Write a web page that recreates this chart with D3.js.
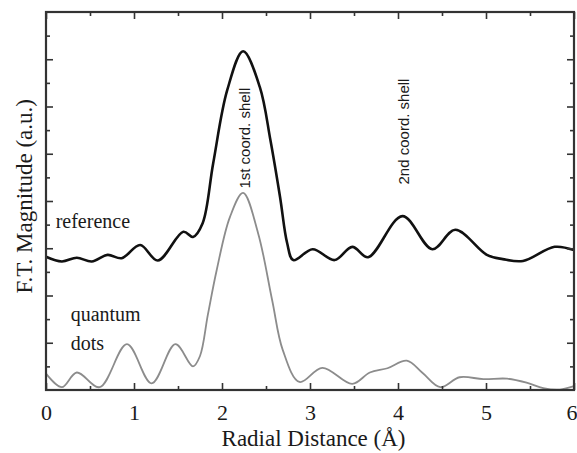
<!DOCTYPE html>
<html>
<head>
<meta charset="utf-8">
<script src="https://cdn.jsdelivr.net/npm/d3@7"></script>
<style>
  html, body { margin: 0; padding: 0; background: #fff; }
  svg { display: block; }
</style>
</head>
<body>
<div id="chart"></div>
<script>
// reference sample (black)
const refR   = [0, 0.18, 0.35, 0.52, 0.70, 0.86, 1.07, 1.27, 1.56, 1.67, 1.78, 1.90, 2.06, 2.24, 2.43, 2.55, 2.66, 2.74, 2.81, 3.03, 3.28, 3.48, 3.66, 4.05, 4.39, 4.65, 5.01, 5.19, 5.42, 5.78, 6.0];
const refMag = [2.82, 2.72, 2.80, 2.72, 2.86, 2.79, 3.07, 2.74, 3.35, 3.24, 3.53, 4.80, 6.35, 7.17, 6.41, 5.29, 4.08, 3.11, 2.75, 2.98, 2.75, 3.03, 2.81, 3.68, 2.98, 3.39, 2.86, 2.77, 2.73, 3.03, 2.96];

// quantum dots (gray)
const qdR   = [0, 0.18, 0.35, 0.61, 0.92, 1.20, 1.47, 1.67, 1.75, 1.84, 1.94, 2.09, 2.24, 2.41, 2.57, 2.69, 2.88, 3.14, 3.48, 3.68, 3.88, 4.10, 4.28, 4.48, 4.70, 4.97, 5.24, 5.47, 5.65, 5.84, 6.0];
const qdMag = [0.35, 0.06, 0.37, 0.06, 0.97, 0.14, 0.97, 0.50, 0.72, 1.60, 2.54, 3.66, 4.17, 3.32, 1.90, 0.85, 0.17, 0.47, 0.13, 0.37, 0.46, 0.62, 0.36, 0.06, 0.27, 0.23, 0.24, 0.15, 0.04, 0.01, 0.08];

const xMajor = [0, 1, 2, 3, 4, 5, 6];
const xMinor = [0.5, 1.5, 2.5, 3.5, 4.5, 5.5];
const yMajor = [1, 2, 3, 4, 5, 6, 7];
const yMinor = [0.5, 1.5, 2.5, 3.5, 4.5, 5.5, 6.5, 7.5];

const W = 577, H = 453;
const margin = { top: 12, right: 3, bottom: 63, left: 46 };
const innerW = W - margin.left - margin.right;
const innerH = H - margin.top - margin.bottom;

const x = d3.scaleLinear().domain([0, 6]).range([0, innerW]);
const y = d3.scaleLinear().domain([0, 8]).range([innerH, 0]);

const svg = d3.select('#chart').append('svg')
  .attr('width', W).attr('height', H);

const g = svg.append('g').attr('transform', `translate(${margin.left},${margin.top})`);

const serif = '"Liberation Serif", "Times New Roman", serif';
const sans = '"Liberation Sans", Arial, sans-serif';
const axisColor = '#333';
const textColor = '#1a1a1a';

// curves
const line = d3.line()
  .x((d) => x(d[0])).y((d) => y(d[1]))
  .curve(d3.curveCatmullRom.alpha(0.5));

g.append('path')
  .datum(qdR.map((r, i) => [r, qdMag[i]]))
  .attr('d', line)
  .attr('fill', 'none').attr('stroke', '#8c8c8c').attr('stroke-width', 1.8);

g.append('path')
  .datum(refR.map((r, i) => [r, refMag[i]]))
  .attr('d', line)
  .attr('fill', 'none').attr('stroke', '#111').attr('stroke-width', 2.6);

// axes, ticks pointing inward
function styleAxis(ax) {
  ax.select('.domain').remove();
  ax.selectAll('line').attr('stroke', axisColor).attr('stroke-width', 1.6);
}

const bottomMajor = g.append('g').attr('transform', `translate(0,${innerH})`)
  .call(d3.axisBottom(x).tickValues(xMajor).tickSize(-7).tickPadding(14).tickFormat(d3.format('d')));
styleAxis(bottomMajor);
bottomMajor.selectAll('text')
  .attr('font-family', serif).attr('font-size', 22).attr('fill', textColor)
  .attr('text-anchor', (d) => d === 6 ? 'end' : 'middle')
  .attr('dx', (d) => d === 6 ? 3 : 0);

g.append('g').attr('transform', `translate(0,${innerH})`)
  .call(d3.axisBottom(x).tickValues(xMinor).tickSize(-4).tickFormat(''))
  .call(styleAxis);
g.append('g')
  .call(d3.axisTop(x).tickValues(xMajor).tickSize(-7).tickFormat(''))
  .call(styleAxis);
g.append('g')
  .call(d3.axisTop(x).tickValues(xMinor).tickSize(-4).tickFormat(''))
  .call(styleAxis);

g.append('g')
  .call(d3.axisLeft(y).tickValues(yMajor).tickSize(-7).tickFormat(''))
  .call(styleAxis);
g.append('g')
  .call(d3.axisLeft(y).tickValues(yMinor).tickSize(-4).tickFormat(''))
  .call(styleAxis);
g.append('g').attr('transform', `translate(${innerW},0)`)
  .call(d3.axisRight(y).tickValues(yMajor).tickSize(-7).tickFormat(''))
  .call(styleAxis);
g.append('g').attr('transform', `translate(${innerW},0)`)
  .call(d3.axisRight(y).tickValues(yMinor).tickSize(-4).tickFormat(''))
  .call(styleAxis);

// frame
g.append('rect')
  .attr('x', 0).attr('y', 0).attr('width', innerW).attr('height', innerH)
  .attr('fill', 'none').attr('stroke', axisColor).attr('stroke-width', 2.2);

// axis titles
svg.append('text')
  .attr('x', margin.left + x(3.04)).attr('y', 446)
  .attr('text-anchor', 'middle')
  .attr('font-family', serif).attr('font-size', 23).attr('fill', textColor)
  .text('Radial Distance (Å)');

svg.append('text')
  .attr('transform', `translate(32,${margin.top + y(4.1)}) rotate(-90)`)
  .attr('text-anchor', 'middle')
  .attr('font-family', serif).attr('font-size', 23).attr('fill', textColor)
  .text('F.T. Magnitude (a.u.)');

// annotations
g.append('text')
  .attr('x', x(0.11)).attr('y', y(3.43))
  .attr('font-family', serif).attr('font-size', 20).attr('fill', textColor)
  .text('reference');
g.append('text')
  .attr('x', x(0.28)).attr('y', y(1.45))
  .attr('font-family', serif).attr('font-size', 20).attr('fill', textColor)
  .text('quantum');
g.append('text')
  .attr('x', x(0.28)).attr('y', y(0.84))
  .attr('font-family', serif).attr('font-size', 20).attr('fill', textColor)
  .text('dots');

g.append('text')
  .attr('transform', `translate(${x(2.32)},${y(5.33)}) rotate(-90)`)
  .attr('text-anchor', 'middle')
  .attr('font-family', sans).attr('font-size', 15).attr('fill', textColor)
  .text('1st coord. shell');
g.append('text')
  .attr('transform', `translate(${x(4.13)},${y(5.47)}) rotate(-90)`)
  .attr('text-anchor', 'middle')
  .attr('font-family', sans).attr('font-size', 15).attr('fill', textColor)
  .text('2nd coord. shell');
</script>
</body>
</html>
